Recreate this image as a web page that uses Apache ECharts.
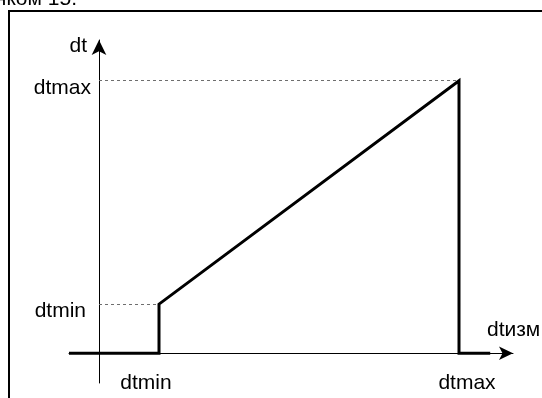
<!DOCTYPE html>
<html>
<head>
<meta charset="utf-8">
<script src="https://cdn.jsdelivr.net/npm/echarts@6/dist/echarts.min.js"></script>
<style>
html,body{margin:0;padding:0;background:#fff;}
#c{width:542px;height:398px;}
</style>
</head>
<body>
<div id="c"></div>
<script>
// --- data ---
const xTickValues = [1, 6];
const xTickLabels = ['dtmin', 'dtmax'];
const yTickValues = [0.94, 5.22];
const yTickLabels = ['dtmin', 'dtmax'];
const curveX = [-0.5, 1, 1, 6, 6, 6.52];
const curveY = [0, 0, 0.94, 5.22, 0, 0];
const xName = 'dtизм';
const yName = 'dt';
const captionText = 'нком 15.';

const X_MIN = -0.5, X_MAX = 6.9;
const Y_MIN = -0.57, Y_MAX = 6;

const FONT = "'Liberation Sans', Arial, sans-serif";
const W = 542, H = 398;
const G = {left: 69, right: 29, top: 40, bottom: 15};
const gridW = W - G.left - G.right;
const gridH = H - G.top - G.bottom;
// place each axis on the other axis's zero (labels included)
const yAxisOffset = -((0 - X_MIN) / (X_MAX - X_MIN)) * gridW;
const xAxisOffset = -((0 - Y_MIN) / (Y_MAX - Y_MIN)) * gridH;

const chart = echarts.init(document.getElementById('c'), null, {renderer: 'canvas'});

function labelFor(values, labels, v) {
  for (let i = 0; i < values.length; i++) {
    if (Math.abs(values[i] - v) < 1e-6) return labels[i];
  }
  return '';
}

const curve = curveX.map((x, i) => [x, curveY[i]]);

chart.setOption({
  animation: false,
  backgroundColor: '#fff',
  grid: {left: G.left, right: G.right, top: G.top, bottom: G.bottom, containLabel: false, outerBoundsMode: 'none'},
  xAxis: {
    type: 'value', min: X_MIN, max: X_MAX, position: 'bottom', offset: xAxisOffset,
    name: xName, nameLocation: 'end', nameGap: -26,
    nameTextStyle: {fontFamily: FONT, fontSize: 21, color: '#000', align: 'left', verticalAlign: 'bottom', lineHeight: 46},
    axisLine: {show: true, onZero: false, symbol: ['none', 'arrow'], symbolSize: [10, 14], lineStyle: {color: '#000', width: 1}},
    axisTick: {show: false},
    splitLine: {show: false},
    axisLabel: {
      customValues: xTickValues, margin: 19,
      fontFamily: FONT, fontSize: 21, color: '#000',
      formatter: v => {
        const t = labelFor(xTickValues, xTickLabels, v);
        return t === xTickLabels[0] ? '{l|' + t + '}' : '{r|' + t + '}';
      },
      rich: {
        l: {fontFamily: FONT, fontSize: 21, color: '#000', padding: [0, 26, 0, 0]},
        r: {fontFamily: FONT, fontSize: 21, color: '#000', padding: [0, 0, 0, 16]}
      }
    }
  },
  yAxis: {
    type: 'value', min: Y_MIN, max: Y_MAX, position: 'left', offset: yAxisOffset,
    name: yName, nameLocation: 'end', nameGap: -6,
    nameTextStyle: {fontFamily: FONT, fontSize: 21, color: '#000', align: 'right', verticalAlign: 'middle', padding: [0, 12, 0, 0]},
    axisLine: {show: true, onZero: false, symbol: ['none', 'arrow'], symbolSize: [11, 15], lineStyle: {color: '#000', width: 1}},
    axisTick: {show: false},
    splitLine: {show: false},
    axisLabel: {
      customValues: yTickValues, margin: 8,
      fontFamily: FONT, fontSize: 21, color: '#000',
      verticalAlign: 'middle', padding: [14, 0, 0, 0],
      formatter: v => {
        const t = labelFor(yTickValues, yTickLabels, v);
        return t === yTickLabels[0] ? '{b|' + t + '}' : '{a|' + t + '}';
      },
      rich: {
        a: {fontFamily: FONT, fontSize: 21, color: '#000'},
        b: {fontFamily: FONT, fontSize: 21, color: '#000', padding: [0, 5, 0, 0]}
      }
    }
  },
  series: [{
    type: 'line',
    data: curve,
    symbol: 'none',
    lineStyle: {color: '#000', width: 3, join: 'miter'},
    z: 5,
    markLine: {
      silent: true,
      symbol: ['none', 'none'],
      label: {show: false},
      lineStyle: {color: '#6e6e6e', width: 1, type: [3, 3]},
      data: [
        [{coord: [0, yTickValues[1]]}, {coord: [xTickValues[1], yTickValues[1]]}],
        [{coord: [0, yTickValues[0]]}, {coord: [xTickValues[0], yTickValues[0]]}]
      ]
    }
  }],
  graphic: [
    {type: 'rect', silent: true, z: -1,
     shape: {x: 9, y: 11, width: 700, height: 500},
     style: {fill: 'none', stroke: '#000', lineWidth: 2}},
    {type: 'text', silent: true,
     style: {text: captionText, x: 77, y: 10, align: 'right', verticalAlign: 'bottom',
             fontFamily: FONT, fontSize: 21, fill: '#000'}}
  ]
});
</script>
</body>
</html>
